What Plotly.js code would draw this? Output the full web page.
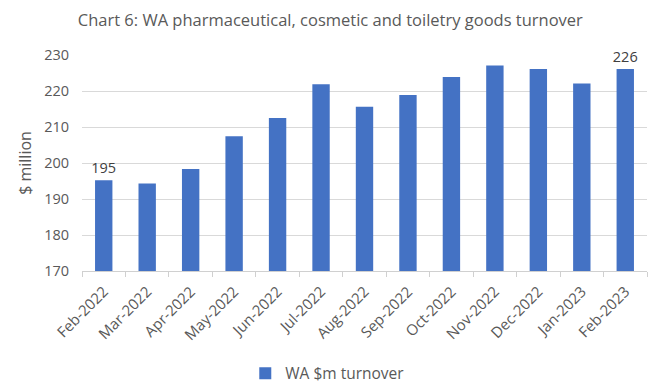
<!DOCTYPE html>
<html>
<head>
<meta charset="utf-8">
<script src="https://cdn.plot.ly/plotly-3.0.1.min.js"></script>
<style>html,body{margin:0;padding:0;background:#fff;}#chart{width:658px;height:385px;}</style>
</head>
<body>
<div id="chart"></div>
<script>
const months = ["Feb-2022","Mar-2022","Apr-2022","May-2022","Jun-2022","Jul-2022","Aug-2022","Sep-2022","Oct-2022","Nov-2022","Dec-2022","Jan-2023","Feb-2023"];
const turnover = [195.2, 194.3, 198.3, 207.4, 212.5, 221.9, 215.6, 218.9, 223.9, 227.1, 226.1, 222.1, 226.1];
const seriesName = "WA $m turnover";
const labelled = [0, 12];

const font = "Open Sans, Noto Sans, sans-serif";
const grey = "#595959";

const trace = {
  type: "bar",
  x: months,
  y: turnover,
  name: seriesName,
  marker: {color: "#4472C4"},
  text: turnover.map((v, i) => labelled.includes(i) ? String(Math.round(v)) : ""),
  textposition: "outside",
  constraintext: "none",
  cliponaxis: false,
  textfont: {family: font, size: 14.5, color: "#404040"},
  hoverinfo: "x+y"
};

const layout = {
  width: 658, height: 385,
  margin: {l: 82, r: 11, t: 55, b: 114, autoexpand: false},
  paper_bgcolor: "#fff", plot_bgcolor: "#fff",
  font: {family: font, color: grey, size: 14},
  title: {text: "Chart 6: WA pharmaceutical, cosmetic and toiletry goods turnover",
          font: {family: font, size: 16.5, color: grey}, x: 0.502, xanchor: "center", y: 0.948, yanchor: "middle"},
  bargap: 0.6,
  showlegend: true,
  legend: {orientation: "h", x: 0.435, xanchor: "center", y: -0.475, yanchor: "middle",
           font: {family: font, size: 15.5, color: grey}},
  xaxis: {
    type: "category",
    tickangle: -45,
    automargin: false,
    showline: true, linecolor: "#d0d0d0", linewidth: 1,
    ticks: "outside", tickson: "boundaries", ticklen: 5, tickcolor: "#d0d0d0",
    ticklabelstandoff: 5,
    showgrid: false,
    tickfont: {family: font, size: 15, color: grey}
  },
  yaxis: {
    range: [170, 230],
    dtick: 10,
    automargin: false,
    showgrid: true, gridcolor: "#d9d9d9", gridwidth: 1,
    zeroline: false, showline: false,
    ticks: "", ticklen: 0,
    ticklabelstandoff: 12,
    tickfont: {family: font, size: 14.5, color: grey},
    title: {text: "$ million", font: {family: font, size: 16, color: grey}, standoff: 8}
  }
};

Plotly.newPlot("chart", [trace], layout, {displayModeBar: false, staticPlot: true});
</script>
</body>
</html>
